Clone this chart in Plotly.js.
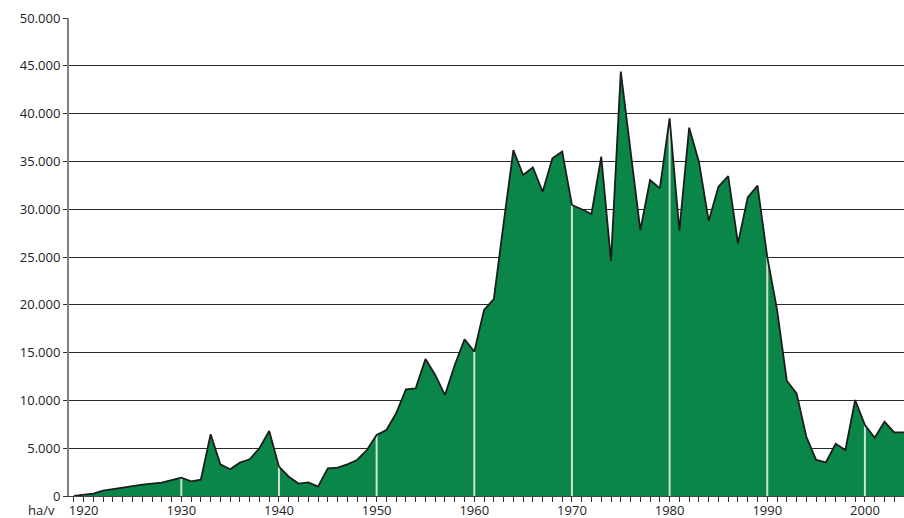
<!DOCTYPE html>
<html>
<head>
<meta charset="utf-8">
<script src="https://cdn.plot.ly/plotly-3.0.1.min.js"></script>
<style>html,body{margin:0;padding:0;background:#fff;}#chart{width:904px;height:518px;}</style>
</head>
<body>
<div id="chart"></div>
<script>
const years = [];
for (let y = 1919; y <= 2004; y++) years.push(y);
const values = [
  0, 100, 250, 560, 730, 900, 1050, 1190, 1290, 1400, 1670,
  1920, 1530, 1700, 6450, 3310, 2790, 3490, 3840, 4990, 6800,
  3070, 2020, 1300, 1430, 980, 2890, 2960, 3310, 3770, 4810,
  6380, 6900, 8650, 11160, 11260, 14330, 12660, 10560, 13700, 16390,
  15100, 19460, 20600, 28500, 36190, 33580, 34380, 31830, 35320, 36020,
  30440, 29990, 29500, 35500, 24580, 44400, 36000, 27800, 33050, 32180,
  39500, 27750, 38530, 34970, 28770, 32360, 33470, 26430, 31240, 32460,
  25000, 19500, 12060, 10740, 6200, 3770, 3520, 5470, 4810, 10040,
  7430, 6100, 7780, 6660, 6660
];
const yTicks = [0, 5000, 10000, 15000, 20000, 25000, 30000, 35000, 40000, 45000, 50000];
const unitLabel = 'ha/v';

// decade marker segments built from data
const decX = [], decY = [];
years.forEach((yr, i) => {
  if (yr % 10 === 0 && yr < 2004) {
    decX.push(yr, yr, null);
    decY.push(0, values[i], null);
  }
});

const traces = [
  { x: years, y: values, type: 'scatter', mode: 'lines', fill: 'tozeroy',
    fillcolor: '#0a8748', line: { width: 0, color: '#0a8748' }, hoverinfo: 'skip' },
  { x: decX, y: decY, type: 'scatter', mode: 'lines',
    line: { color: '#cfe0d4', width: 2 }, hoverinfo: 'skip' },
  { x: years, y: values, type: 'scatter', mode: 'lines',
    line: { color: '#1c1c1c', width: 1.8 }, hoverinfo: 'skip' }
];

const layout = {
  width: 904, height: 518,
  margin: { l: 69, r: 0, t: 18, b: 22 },
  paper_bgcolor: '#fff', plot_bgcolor: '#fff',
  showlegend: false,
  separators: ',.',
  font: { family: 'Open Sans, Noto Sans, sans-serif', size: 13, color: '#222' },
  xaxis: {
    range: [1918.5, 2004], tick0: 1920, dtick: 10,
    ticks: 'outside', ticklen: 5, tickcolor: '#333', tickwidth: 1,
    ticklabelstandoff: -3,
    minor: { tick0: 1920, dtick: 1, ticks: 'outside', ticklen: 5, tickcolor: '#333', tickwidth: 1, showgrid: false },
    showgrid: false, zeroline: false,
    showline: true, linecolor: '#444', linewidth: 1,
    tickfont: { size: 13, color: '#222' }
  },
  yaxis: {
    range: [0, 50000], tickvals: yTicks, tickformat: ',d',
    ticks: 'outside', ticklen: 4, tickcolor: '#333', tickwidth: 1,
    showgrid: true, gridcolor: '#2a2a2a', gridwidth: 1,
    zeroline: false,
    showline: true, linecolor: '#808080', linewidth: 2,
    tickfont: { size: 13, color: '#222' }
  },
  annotations: [{
    text: unitLabel, xref: 'paper', yref: 'paper',
    x: -0.0144, y: -0.0300, xanchor: 'right', yanchor: 'middle',
    showarrow: false, font: { size: 13, color: '#222' }
  }]
};

Plotly.newPlot('chart', traces, layout, { staticPlot: true, displayModeBar: false });
</script>
</body>
</html>
